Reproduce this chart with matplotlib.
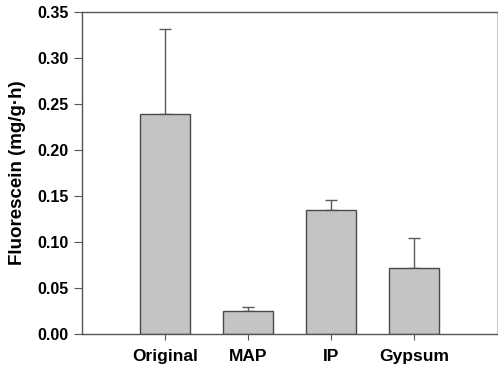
import matplotlib.pyplot as plt
import numpy as np

plt.rcParams['font.family'] = ['Liberation Sans', 'DejaVu Sans']

categories = ["Original", "MAP", "IP", "Gypsum"]
means = [0.239, 0.025, 0.135, 0.072]
errors = [0.093, 0.005, 0.011, 0.032]
yticks = [0.00, 0.05, 0.10, 0.15, 0.20, 0.25, 0.30, 0.35]

x = np.arange(1, len(categories) + 1)

fig = plt.figure(figsize=(4.98, 3.73), dpi=100)
ax = fig.add_axes([0.165, 0.104, 0.833, 0.864])

ax.bar(x, means, width=0.6, color="#c4c4c4", edgecolor="#4a4a4a", linewidth=1.0, zorder=2)
ax.errorbar(x, means, yerr=[np.zeros(len(means)), errors], fmt="none",
            ecolor="#5a5a5a", elinewidth=1.0, capsize=4, capthick=1.0, zorder=1)

ax.set_xlim(0, 5)
ax.set_ylim(0, 0.35)
ax.set_yticks(yticks)
ax.set_yticklabels([f"{t:.2f}" for t in yticks], fontsize=11.5, fontweight="bold")
ax.set_xticks(x)
ax.set_xticklabels(categories, fontsize=12.5, fontweight="bold")
ax.tick_params(axis="x", direction="out", length=4, width=0.8, color="#555555", pad=7)
ax.tick_params(axis="y", direction="out", length=6, width=0.8, color="#555555", pad=4)
ax.set_ylabel("Fluorescein (mg/g·h)", fontsize=13.5, fontweight="bold", labelpad=8)

for side in ["left", "bottom", "top"]:
    ax.spines[side].set_color("#555555")
    ax.spines[side].set_linewidth(1.0)
ax.spines["right"].set_color("#cccccc")

fig.savefig("out.png", dpi=100)
